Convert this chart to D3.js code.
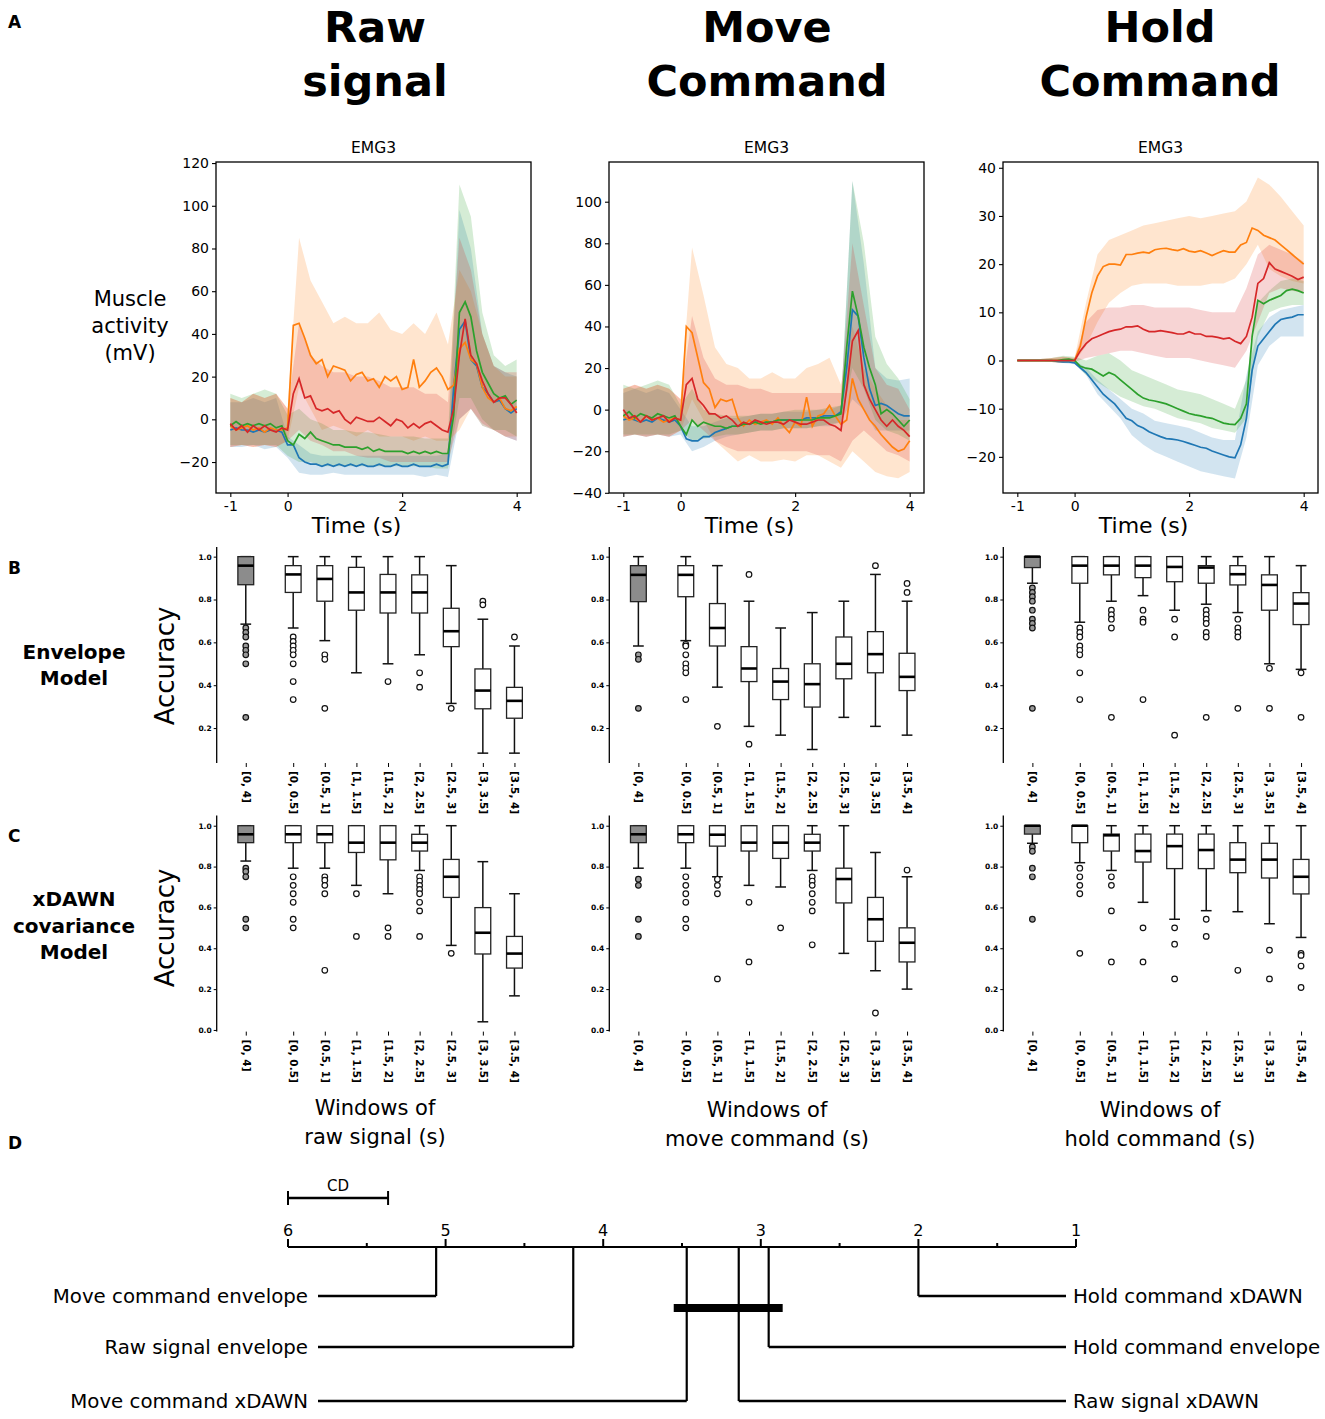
<!DOCTYPE html>
<html>
<head>
<meta charset="utf-8">
<script src="https://cdn.jsdelivr.net/npm/d3@7"></script>
<style>
  body { margin: 0; background: #fff; }
  text { font-family: "DejaVu Sans", sans-serif; }
</style>
</head>
<body>
<svg id="fig" width="1325" height="1419"></svg>
<script>
// ---------- time series (EMG3, four gestures) ----------
const tLine = [-1.0,-0.9,-0.8,-0.7,-0.6,-0.5,-0.4,-0.3,-0.2,-0.1,0.0,0.1,0.2,0.3,0.4,0.5,0.6,0.7,0.8,0.9,
  1.0,1.1,1.2,1.3,1.4,1.5,1.6,1.7,1.8,1.9,2.0,2.1,2.2,2.3,2.4,2.5,2.6,2.7,2.8,2.9,
  3.0,3.1,3.2,3.3,3.4,3.5,3.6,3.7,3.8,3.9,4.0];
const tBand = [-1.0,-0.8,-0.6,-0.4,-0.2,0.0,0.2,0.4,0.6,0.8,1.0,1.2,1.4,1.6,1.8,2.0,2.2,2.4,2.6,2.8,3.0,3.2,3.4,3.6,3.8,4.0];

// raw signal
const rawBlue   = [-5,-4,-5,-5,-6,-5,-6,-5,-5,-6,-12,-12,-18,-20,-21,-21,-22,-21,-22,-21,-22,-21,-22,-21,-22,-22,-21,-22,-22,-21,-22,-22,-21,-22,-22,-22,-21,-22,-21,15,42,46,28,25,15,12,8,9,5,3,5];
const rawOrange = [-3,-5,-4,-3,-5,-4,-6,-4,-5,-5,-4,44,45,38,30,26,28,20,25,24,23,18,21,22,18,19,15,20,18,20,14,15,28,15,18,22,24,20,14,16,33,36,28,26,15,10,8,10,5,4,6];
const rawGreen  = [-3,-1,-3,-2,-3,-2,-3,-2,-4,-3,-10,-12,-7,-9,-6,-9,-10,-11,-12,-12,-13,-13,-13,-14,-13,-15,-14,-15,-15,-15,-15,-16,-15,-16,-15,-16,-15,-16,-16,2,50,55,48,32,22,17,12,10,11,7,9];
const rawRed    = [-2,-5,-3,-6,-3,-5,-3,-5,-6,-4,-5,12,19,10,11,5,4,5,3,4,0,-2,1,0,-1,-1,1,-1,-3,0,-1,-4,-2,-4,-2,-1,-3,-5,-6,5,30,47,30,26,18,12,8,10,10,7,3];
const rawBlueLo   = [-13,-13,-12,-14,-13,-18,-25,-26,-26,-25,-26,-26,-26,-26,-26,-26,-26,-27,-26,-27,0,5,-3,-5,-8,-10];
const rawBlueHi   = [8,8,10,8,10,-8,-12,-16,-17,-17,-17,-17,-17,-17,-17,-17,-17,-17,-17,-16,98,80,40,25,22,20];
const rawOrangeLo = [-13,-12,-13,-12,-13,-10,15,5,-5,-3,-5,-8,-5,-8,-8,-8,-10,-8,-10,-10,-5,5,-3,-5,-8,-8];
const rawOrangeHi = [10,8,12,10,12,5,85,65,55,45,48,45,45,50,42,40,45,40,50,35,70,60,40,25,20,20];
const rawGreenLo  = [-12,-12,-12,-12,-12,-17,-20,-20,-22,-22,-22,-22,-22,-22,-22,-22,-22,-22,-23,-23,10,10,0,-5,-5,-8];
const rawGreenHi  = [12,10,12,14,12,2,5,0,-2,-5,-5,-6,-6,-7,-8,-8,-8,-9,-9,-9,110,95,50,30,25,28];
const rawRedLo    = [-13,-12,-13,-12,-13,-10,-5,-10,-12,-15,-15,-17,-18,-18,-20,-20,-20,-20,-20,-20,0,5,-2,-5,-8,-10];
const rawRedHi    = [10,8,12,10,12,5,45,30,25,22,22,20,20,18,15,15,15,12,12,8,85,70,40,25,22,22];

// move command
const moveBlue   = [-5,-4,-5,-6,-5,-6,-4,-5,-6,-5,-8,-14,-15,-15,-13,-13,-11,-10,-9,-8,-8,-7,-7,-6,-6,-6,-6,-5,-5,-5,-5,-5,-4,-4,-4,-3,-3,-3,-1,20,48,45,25,10,2,3,2,0,-2,-3,-3];
const moveOrange = [-3,-5,-4,-6,-3,-5,-4,-6,-5,-4,-5,40,37,25,13,10,1,5,4,5,-4,-8,-5,-7,-6,-5,-7,-4,-8,-11,-6,-8,6,-8,-3,-2,2,-3,-7,-5,15,5,0,-5,-8,-12,-15,-18,-20,-19,-15];
const moveGreen  = [-3,-1,-4,-2,-3,-4,-2,-3,-4,-3,-8,-12,-5,-8,-6,-7,-8,-8,-9,-8,-8,-7,-7,-6,-7,-6,-6,-5,-5,-5,-5,-5,-5,-5,-4,-4,-4,-3,-2,30,57,45,30,20,12,-2,0,-2,-5,-8,-5];
const moveRed    = [0,-4,-3,-6,-3,-5,-4,-3,-6,-4,-5,12,15,5,2,-2,-2,-4,-3,-5,-8,-6,-7,-5,-6,-7,-6,-6,-7,-5,-6,-7,-7,-6,-5,-5,-7,-8,-10,10,33,38,12,5,0,-5,-8,-5,-8,-10,-13];
const moveBlueLo   = [-13,-12,-13,-12,-13,-12,-20,-18,-15,-13,-12,-11,-10,-10,-9,-9,-9,-8,-8,-6,5,0,-10,-10,-10,-10];
const moveBlueHi   = [8,10,8,10,8,0,-8,-8,-6,-4,-4,-3,-2,-2,-1,-1,-1,0,0,2,110,70,20,15,14,15];
const moveOrangeLo = [-13,-12,-13,-12,-13,-10,5,-5,-15,-20,-25,-22,-25,-25,-24,-25,-22,-22,-25,-28,-20,-25,-30,-32,-33,-30];
const moveOrangeHi = [10,12,10,12,10,5,78,55,30,22,20,15,15,18,15,15,20,22,25,12,40,20,10,2,-5,-5];
const moveGreenLo  = [-12,-12,-12,-12,-12,-10,-15,-14,-13,-12,-12,-11,-10,-10,-9,-9,-9,-8,-7,-6,20,10,-5,-10,-12,-15];
const moveGreenHi  = [12,10,12,14,12,2,10,0,-2,-3,-3,-3,-2,-2,-1,0,0,0,1,2,110,80,35,22,15,5];
const moveRedLo    = [-13,-12,-13,-12,-13,-10,-5,-10,-15,-18,-20,-20,-20,-20,-20,-20,-20,-22,-22,-25,-15,-10,-15,-20,-22,-25];
const moveRedHi    = [10,12,10,12,10,5,45,25,15,12,12,10,10,8,8,8,8,8,8,8,80,50,20,12,10,0];

// hold command
const holdBlue   = [0,0,0,0,0,0,0,-0.2,-0.3,-0.3,-0.5,-1.5,-2.5,-4,-5.5,-7,-8,-9,-10.5,-12,-12.5,-13.5,-14,-14.8,-15.3,-15.8,-16.2,-16.3,-16.5,-16.8,-17.2,-17.6,-18,-18.2,-18.8,-19.2,-19.6,-20,-20.2,-17.5,-12,-2,3,4.5,6,7.5,8.5,8.8,9,9.5,9.5];
const holdOrange = [0,0,0,0,0,0,0,0,0,0,0,3,9,14,17.5,19.5,20,20,19.8,22,22,22.3,22.5,22.3,23,23.2,23.3,23,22.8,23.2,22.7,22.5,22.8,22.3,21.8,22.3,22.8,22.5,22.5,24,24.5,27.5,27,26,25.5,25,24,23,22,21,20];
const holdGreen  = [0,0,0,0,0,0,0,0,0.2,0.3,0,-1.2,-1.6,-1.8,-2.5,-3.2,-2.5,-3,-4,-5,-6,-7,-7.8,-8.2,-8.4,-8.7,-9,-9.5,-10,-10.5,-11,-11.3,-11.5,-11.8,-12,-12.5,-13,-13.2,-13.3,-12,-9,5,12.5,11.8,12.5,13,13.5,14.5,14.8,14.5,14];
const holdRed    = [0,0,0,0,0,0,0,0,0,0,0,2,3.5,4.5,5,5.5,6,6.3,6.5,7,7,7.2,6.5,6,6,6.2,6,5.8,5.5,5.5,6,5.5,5.5,5,5,4.8,4.5,4.7,4,3.5,5,9,16,17,20.3,19,18.5,18,17.5,16.8,17.3];
const holdBlueLo   = [0,0,0,-0.3,-0.5,-0.8,-3,-7,-9.5,-12,-15.5,-17.5,-19,-20,-21,-22,-23,-23.5,-24,-24.5,-16,-1,3,5,5,5];
const holdBlueHi   = [0.3,0.3,0.3,0.2,0.2,0,-1.5,-4,-6,-8,-10,-11,-12.5,-13,-13.5,-14,-15,-16,-16.5,-16.5,-3,6,9,10.5,11,11.5];
const holdOrangeLo = [-0.3,-0.3,-0.3,-0.3,-0.5,-0.3,3,8,12,14,15.5,16,16,16,15.5,15.5,15.5,16,16,17,20,24,19,17.5,16.5,16];
const holdOrangeHi = [0.3,0.3,0.3,0.5,0.8,0.5,12,22,25,26,27,28,28.5,29,29.5,30,29.5,30,30.5,31,33,38,36.5,34,31,28];
const holdGreenLo  = [-0.3,-0.3,-0.3,-0.3,-0.5,-0.5,-3,-4.5,-6,-7.5,-8.5,-9.5,-10,-11,-12,-12.5,-13,-14,-14.5,-15,-12,5,10,11,11.5,11.5];
const holdGreenHi  = [0.3,0.3,0.3,0.5,1,0.8,0,1,1.5,0,-2,-3,-4,-5,-6,-6.5,-7,-8,-9,-10,-4,12,14.5,16.5,17,16.5];
const holdRedLo    = [-0.3,-0.3,-0.3,-0.3,-0.5,-0.3,0.5,1,1.5,2,2,1.5,1,0.5,0.5,0.5,0,-0.5,-1,-1.5,2,8,14,15,14.5,14];
const holdRedHi    = [0.3,0.3,0.3,0.5,0.8,0.5,8,10.5,11,11,11.5,11.5,11,11,11,11,10.5,10,10,10,15,22,24,23,22,20.5];

// ---------- accuracy per window: [lower whisker, Q1, median, Q3, upper whisker] ----------
const windows = ["[0, 4]","[0, 0.5]","[0.5, 1]","[1, 1.5]","[1.5, 2]","[2, 2.5]","[2.5, 3]","[3, 3.5]","[3.5, 4]"];
const windowPos = [0, 1.5, 2.5, 3.5, 4.5, 5.5, 6.5, 7.5, 8.5];

const envRawStats = [[0.685,0.869,0.958,1,1],[0.667,0.833,0.917,0.958,1],[0.608,0.792,0.896,0.958,1],[0.458,0.75,0.833,0.95,1],[0.5,0.737,0.833,0.917,1],[0.542,0.737,0.833,0.915,1],[0.315,0.58,0.652,0.759,0.958],[0.083,0.29,0.375,0.476,0.708],[0.083,0.246,0.327,0.39,0.583]];
const envRawOut = [[0.667,0.646,0.625,0.583,0.563,0.542,0.5,0.25],[0.625,0.604,0.583,0.563,0.542,0.5,0.417,0.333],[0.542,0.521,0.292],[],[0.417],[0.458,0.391],[0.292],[0.792,0.775],[0.625]];
const envMoveStats = [[0.583,0.79,0.915,0.958,1],[0.608,0.813,0.915,0.958,1],[0.391,0.583,0.667,0.781,0.958],[0.208,0.417,0.478,0.58,0.792],[0.167,0.333,0.417,0.478,0.667],[0.1,0.298,0.405,0.5,0.739],[0.25,0.43,0.5,0.625,0.792],[0.208,0.458,0.545,0.65,0.917],[0.167,0.375,0.439,0.549,0.792]];
const envMoveOut = [[0.542,0.521,0.292],[0.591,0.583,0.542,0.5,0.479,0.458,0.333],[0.208],[0.917,0.125],[],[],[],[0.958],[0.875,0.833]];
const envHoldStats = [[0.876,0.949,1,1,1],[0.694,0.876,0.958,1,1],[0.792,0.915,0.958,1,1],[0.818,0.902,0.958,1,1],[0.75,0.883,0.952,1,1],[0.778,0.876,0.949,0.958,1],[0.739,0.868,0.918,0.958,1],[0.5,0.75,0.868,0.915,1],[0.474,0.683,0.781,0.832,0.958]];
const envHoldOut = [[0.854,0.833,0.813,0.792,0.75,0.708,0.688,0.667,0.292],[0.667,0.646,0.625,0.583,0.563,0.542,0.458,0.333],[0.75,0.729,0.708,0.667,0.25],[0.75,0.708,0.694,0.333],[0.708,0.625,0.167],[0.75,0.729,0.708,0.688,0.646,0.625,0.25],[0.708,0.667,0.646,0.625,0.292],[0.479,0.292],[0.458,0.25]];

const xdRawStats = [[0.827,0.917,0.958,1,1],[0.792,0.917,0.958,1,1],[0.792,0.917,0.958,1,1],[0.708,0.869,0.917,1,1],[0.667,0.833,0.917,1,1],[0.781,0.876,0.917,0.958,1],[0.414,0.649,0.75,0.835,1],[0.04,0.372,0.476,0.599,0.824],[0.167,0.303,0.374,0.458,0.667]];
const xdRawOut = [[0.792,0.776,0.75,0.542,0.5],[0.75,0.708,0.667,0.625,0.542,0.5],[0.75,0.733,0.708,0.667,0.292],[0.667,0.458],[0.5,0.458],[0.75,0.729,0.708,0.688,0.667,0.625,0.583,0.458],[0.375],[],[]];
const xdMoveStats = [[0.792,0.917,0.958,1,1],[0.792,0.917,0.958,1,1],[0.75,0.9,0.956,1,1],[0.708,0.876,0.917,1,1],[0.7,0.84,0.917,1,1],[0.781,0.876,0.917,0.958,1],[0.375,0.622,0.739,0.792,1],[0.29,0.434,0.542,0.649,0.869],[0.2,0.333,0.427,0.5,0.75]];
const xdMoveOut = [[0.738,0.708,0.542,0.458],[0.75,0.708,0.667,0.625,0.542,0.5],[0.738,0.708,0.667,0.25],[0.625,0.333],[0.5],[0.75,0.729,0.708,0.667,0.625,0.583,0.417],[],[0.083],[0.783]];
const xdHoldStats = [[0.914,0.959,1,1,1],[0.819,0.917,1,1,1],[0.781,0.876,0.953,0.959,1],[0.625,0.822,0.876,0.959,1],[0.542,0.79,0.9,0.959,1],[0.584,0.79,0.881,0.959,1],[0.579,0.77,0.834,0.917,1],[0.52,0.744,0.834,0.914,1],[0.453,0.666,0.75,0.835,1]];
const xdHoldOut = [[0.896,0.875,0.792,0.75,0.542],[0.792,0.75,0.708,0.667,0.375],[0.75,0.708,0.583,0.333],[0.5,0.333],[0.5,0.42,0.25],[0.542,0.458],[0.292],[0.391,0.25],[0.375,0.365,0.313,0.208]];

// ---------- critical difference diagram ----------
const cdMethods = ["Move command envelope","Raw signal envelope","Move command xDAWN","Raw signal xDAWN","Hold command envelope","Hold command xDAWN"];
const cdRanks = [5.06, 4.19, 3.47, 3.14, 2.95, 2.0];
const cdValue = 0.635;
const cdClique = [3.47, 2.95];

// ---------- drawing ----------
const svg = d3.select('#fig');
const colors = {blue: '#1f77b4', orange: '#ff7f0e', green: '#2ca02c', red: '#d62728'};
const minus = d => (d < 0 ? '\u2212' + Math.abs(d) : String(d));

// column headers and panel letters
const heads = [["Raw", "signal", 375], ["Move", "Command", 767], ["Hold", "Command", 1160]];
heads.forEach(h => {
  const t = svg.append('text').attr('text-anchor', 'middle')
    .style('font-size', '43px').style('font-weight', 'bold');
  t.append('tspan').attr('x', h[2]).attr('y', 42).text(h[0]);
  t.append('tspan').attr('x', h[2]).attr('y', 96).text(h[1]);
});
[["A", 28], ["B", 574], ["C", 842], ["D", 1149]].forEach(d => {
  svg.append('text').attr('x', 8).attr('y', d[1]).text(d[0])
    .style('font-size', '17px').style('font-weight', 'bold');
});

// ---- panel A: mean EMG with bands ----
function lineChart(opt) {
  const x = d3.scaleLinear().domain([-1.25, 4.25]).range([opt.left, opt.left + 315]);
  const y = d3.scaleLinear().domain(opt.yDomain).range([493, 162]);
  const g = svg.append('g');
  const clipId = 'clip' + opt.left;
  g.append('clipPath').attr('id', clipId).append('rect')
    .attr('x', opt.left).attr('y', 162).attr('width', 315).attr('height', 331);
  const plot = g.append('g').attr('clip-path', `url(#${clipId})`);

  const area = d3.area().x((d, i) => x(tBand[i])).y0(d => y(d[0])).y1(d => y(d[1]));
  const line = d3.line().x((d, i) => x(tLine[i])).y(d => y(d));

  opt.series.forEach(s => {
    plot.append('path').datum(d3.zip(s.lo, s.hi)).attr('d', area)
      .attr('fill', colors[s.c]).attr('fill-opacity', 0.2).attr('stroke', 'none');
  });
  opt.series.forEach(s => {
    plot.append('path').datum(s.mean).attr('d', line)
      .attr('fill', 'none').attr('stroke', colors[s.c]).attr('stroke-width', 1.7);
  });

  g.append('rect').attr('x', opt.left).attr('y', 162).attr('width', 315).attr('height', 331)
    .attr('fill', 'none').attr('stroke', '#000').attr('stroke-width', 1.3);

  const ya = g.append('g').attr('transform', `translate(${opt.left},0)`)
    .call(d3.axisLeft(y).tickValues(opt.yTicks).tickSize(4).tickPadding(3).tickFormat(minus));
  const xa = g.append('g').attr('transform', 'translate(0,493)')
    .call(d3.axisBottom(x).tickValues([-1, 0, 2, 4]).tickSize(4).tickPadding(4).tickFormat(d => d < 0 ? '-' + Math.abs(d) : d));
  [ya, xa].forEach(a => {
    a.select('.domain').remove();
    a.selectAll('text').style('font-size', '14px').attr('fill', '#000');
    a.selectAll('line').attr('stroke', '#000').attr('stroke-width', 1.1);
  });

  const cx = opt.left + 157.5;
  g.append('text').attr('x', cx).attr('y', 153).attr('text-anchor', 'middle')
    .style('font-size', '15.5px').text('EMG3');
  g.append('text').attr('x', cx - 17).attr('y', 533).attr('text-anchor', 'middle')
    .style('font-size', '22px').text('Time (s)');
}

lineChart({left: 216, yDomain: [-34.5, 120.5], yTicks: [-20, 0, 20, 40, 60, 80, 100, 120], series: [
  {c: 'blue', mean: rawBlue, lo: rawBlueLo, hi: rawBlueHi},
  {c: 'orange', mean: rawOrange, lo: rawOrangeLo, hi: rawOrangeHi},
  {c: 'green', mean: rawGreen, lo: rawGreenLo, hi: rawGreenHi},
  {c: 'red', mean: rawRed, lo: rawRedLo, hi: rawRedHi}]});
lineChart({left: 609, yDomain: [-40.1, 119.1], yTicks: [-40, -20, 0, 20, 40, 60, 80, 100], series: [
  {c: 'blue', mean: moveBlue, lo: moveBlueLo, hi: moveBlueHi},
  {c: 'orange', mean: moveOrange, lo: moveOrangeLo, hi: moveOrangeHi},
  {c: 'green', mean: moveGreen, lo: moveGreenLo, hi: moveGreenHi},
  {c: 'red', mean: moveRed, lo: moveRedLo, hi: moveRedHi}]});
lineChart({left: 1003, yDomain: [-27.5, 41.2], yTicks: [-20, -10, 0, 10, 20, 30, 40], series: [
  {c: 'blue', mean: holdBlue, lo: holdBlueLo, hi: holdBlueHi},
  {c: 'orange', mean: holdOrange, lo: holdOrangeLo, hi: holdOrangeHi},
  {c: 'green', mean: holdGreen, lo: holdGreenLo, hi: holdGreenHi},
  {c: 'red', mean: holdRed, lo: holdRedLo, hi: holdRedHi}]});

const ylab = svg.append('text').attr('text-anchor', 'middle').style('font-size', '21px');
[["Muscle", 306], ["activity", 333], ["(mV)", 360]].forEach(d => {
  ylab.append('tspan').attr('x', 130).attr('y', d[1]).text(d[0]);
});

// ---- panels B and C: box plots ----
function boxChart(opt) {
  const x = d3.scaleLinear().domain([-0.92, 9.4]).range([opt.left, opt.left + 326.2]);
  const y = d3.scaleLinear().domain(opt.yDomain).range(opt.yRange);
  const g = svg.append('g');
  const bw = 0.5, cw = 0.34;

  g.append('line').attr('x1', opt.left).attr('x2', opt.left)
    .attr('y1', opt.yRange[0]).attr('y2', opt.yRange[1]).attr('stroke', '#000').attr('stroke-width', 1.3);

  const ya = g.append('g').attr('transform', `translate(${opt.left},0)`)
    .call(d3.axisLeft(y).tickValues(opt.yTicks).tickSize(3).tickPadding(2).tickFormat(d3.format('.1f')));
  ya.select('.domain').remove();
  ya.selectAll('text').style('font-size', '7.5px').style('font-weight', 'bold').attr('fill', '#000');

  const xa = g.append('g').attr('transform', `translate(0,${opt.yRange[0]})`)
    .call(d3.axisBottom(x).tickValues(windowPos).tickSize(4).tickFormat((d, i) => windows[i]));
  xa.select('.domain').remove();
  xa.selectAll('line').attr('stroke', '#000');
  xa.selectAll('text').attr('fill', '#000').style('font-size', '10.5px').style('font-weight', 'bold')
    .attr('text-anchor', 'start').attr('transform', 'rotate(90)')
    .attr('x', 8).attr('y', 0).attr('dy', '0.35em');

  opt.stats.forEach((s, i) => {
    const p = windowPos[i];
    const fill = i === 0 ? '#8c8c8c' : '#fff';
    const bg = g.append('g');
    // whiskers
    bg.append('line').attr('x1', x(p)).attr('x2', x(p)).attr('y1', y(s[0])).attr('y2', y(s[1]))
      .attr('stroke', '#111').attr('stroke-width', 1.5);
    bg.append('line').attr('x1', x(p)).attr('x2', x(p)).attr('y1', y(s[3])).attr('y2', y(s[4]))
      .attr('stroke', '#111').attr('stroke-width', 1.5);
    [s[0], s[4]].forEach(v => {
      bg.append('line').attr('x1', x(p - cw / 2)).attr('x2', x(p + cw / 2)).attr('y1', y(v)).attr('y2', y(v))
        .attr('stroke', '#111').attr('stroke-width', 1.5);
    });
    bg.append('rect').attr('x', x(p - bw / 2)).attr('width', x(p + bw / 2) - x(p - bw / 2))
      .attr('y', y(s[3])).attr('height', Math.max(0.5, y(s[1]) - y(s[3])))
      .attr('fill', fill).attr('stroke', '#222').attr('stroke-width', 1.3);
    bg.append('line').attr('x1', x(p - bw / 2)).attr('x2', x(p + bw / 2)).attr('y1', y(s[2])).attr('y2', y(s[2]))
      .attr('stroke', '#000').attr('stroke-width', 2.6);
    bg.selectAll('circle').data(opt.out[i]).enter().append('circle')
      .attr('cx', x(p)).attr('cy', d => y(d)).attr('r', 2.8)
      .attr('fill', i === 0 ? '#9a9a9a' : '#fff').attr('stroke', '#111').attr('stroke-width', 1.2);
  });
}

const rowB = {yDomain: [0.037, 1.045], yRange: [763, 547], yTicks: [0.2, 0.4, 0.6, 0.8, 1.0]};
const rowC = {yDomain: [-0.008, 1.05], yRange: [1031.6, 815.5], yTicks: [0, 0.2, 0.4, 0.6, 0.8, 1.0]};
boxChart(Object.assign({left: 216.7, stats: envRawStats, out: envRawOut}, rowB));
boxChart(Object.assign({left: 609.3, stats: envMoveStats, out: envMoveOut}, rowB));
boxChart(Object.assign({left: 1003.3, stats: envHoldStats, out: envHoldOut}, rowB));
boxChart(Object.assign({left: 216.7, stats: xdRawStats, out: xdRawOut}, rowC));
boxChart(Object.assign({left: 609.3, stats: xdMoveStats, out: xdMoveOut}, rowC));
boxChart(Object.assign({left: 1003.3, stats: xdHoldStats, out: xdHoldOut}, rowC));

[666, 928].forEach(cy => {
  svg.append('text').attr('transform', `translate(174,${cy}) rotate(-90)`).attr('text-anchor', 'middle')
    .style('font-size', '26px').text('Accuracy');
});
function multiLine(lines, cx, y0, dy, size, weight) {
  const t = svg.append('text').attr('text-anchor', 'middle').style('font-size', size).style('font-weight', weight);
  lines.forEach((l, i) => t.append('tspan').attr('x', cx).attr('y', y0 + i * dy).text(l));
}
multiLine(["Envelope", "Model"], 74, 659, 26, '20px', 'bold');
multiLine(["xDAWN", "covariance", "Model"], 74, 906, 26.5, '20px', 'bold');
multiLine(["Windows of", "raw signal (s)"], 375, 1115, 29, '21px', 'normal');
multiLine(["Windows of", "move command (s)"], 767, 1117, 29, '21px', 'normal');
multiLine(["Windows of", "hold command (s)"], 1160, 1117, 29, '21px', 'normal');

// ---- panel D: critical difference diagram ----
const r = d3.scaleLinear().domain([6, 1]).range([288, 1076]);
const axY = 1247;
const cd = svg.append('g').attr('stroke', '#000');
cd.append('line').attr('x1', r(6)).attr('x2', r(1)).attr('y1', axY).attr('y2', axY).attr('stroke-width', 2.2);
[6, 5.5, 5, 4.5, 4, 3.5, 3, 2.5, 2, 1.5, 1].forEach(v => {
  const big = Number.isInteger(v);
  cd.append('line').attr('x1', r(v)).attr('x2', r(v)).attr('y1', axY).attr('y2', axY - (big ? 8 : 4)).attr('stroke-width', 2);
  if (big) svg.append('text').attr('x', r(v)).attr('y', axY - 11).attr('text-anchor', 'middle')
    .style('font-size', '16px').text(v);
});
// CD bar
cd.append('line').attr('x1', r(6)).attr('x2', r(6 - cdValue)).attr('y1', 1198).attr('y2', 1198).attr('stroke-width', 2.4);
[6, 6 - cdValue].forEach(v => cd.append('line').attr('x1', r(v)).attr('x2', r(v)).attr('y1', 1191).attr('y2', 1205).attr('stroke-width', 2));
svg.append('text').attr('x', (r(6) + r(6 - cdValue)) / 2).attr('y', 1191).attr('text-anchor', 'middle')
  .style('font-size', '15px').text('CD');

const levels = [1296, 1347, 1401];
cdMethods.forEach((m, i) => {
  const left = i < 3;
  const ly = left ? levels[i] : levels[5 - i];
  const rx = r(cdRanks[i]);
  cd.append('line').attr('x1', rx).attr('x2', rx).attr('y1', axY).attr('y2', ly).attr('stroke-width', 2.2);
  cd.append('line').attr('x1', left ? 318 : rx).attr('x2', left ? rx : 1066).attr('y1', ly).attr('y2', ly).attr('stroke-width', 2.6);
  svg.append('text').attr('x', left ? 308 : 1073).attr('y', ly).attr('dy', '0.35em')
    .attr('text-anchor', left ? 'end' : 'start').style('font-size', '19.8px').text(m);
});
cd.append('line').attr('x1', r(cdClique[0]) - 13).attr('x2', r(cdClique[1]) + 14)
  .attr('y1', 1308).attr('y2', 1308).attr('stroke-width', 8);
</script>
</body>
</html>
